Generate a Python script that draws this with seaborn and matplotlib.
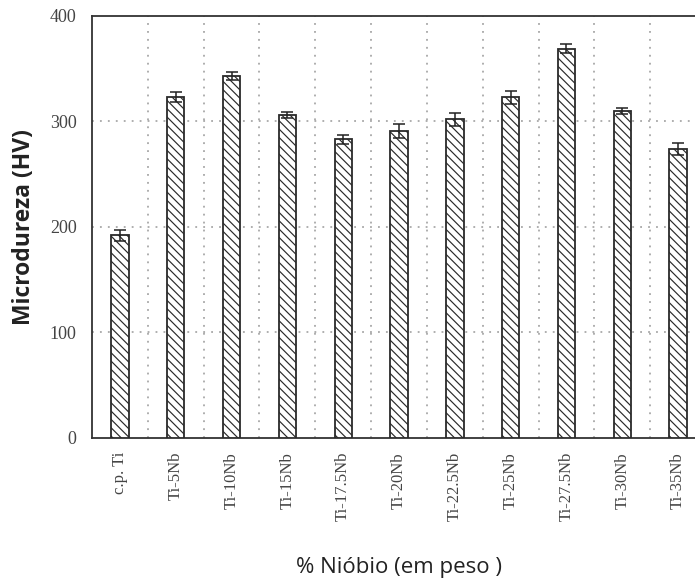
import matplotlib
matplotlib.use("Agg")
import matplotlib.pyplot as plt
import seaborn as sns
import pandas as pd
import numpy as np

# Vickers microhardness of c.p. Ti and Ti-Nb alloys
ligas = ["c.p. Ti", "Ti-5Nb", "Ti-10Nb", "Ti-15Nb", "Ti-17.5Nb", "Ti-20Nb",
         "Ti-22.5Nb", "Ti-25Nb", "Ti-27.5Nb", "Ti-30Nb", "Ti-35Nb"]
dureza = [192, 323, 343, 306, 283, 291, 302, 323, 369, 310, 274]
desvio = [5, 5, 4, 3, 4, 7, 6, 6, 4, 3, 6]
yticks = [0, 100, 200, 300, 400]

df = pd.DataFrame({"liga": ligas, "HV": dureza})

sns.set_style("white")
plt.rcParams["hatch.linewidth"] = 0.85
plt.rcParams["hatch.color"] = "#333333"

fig = plt.figure(figsize=(6.95, 5.85), dpi=100)
ax = fig.add_axes([0.1324, 0.2513, 0.8835, 0.7214])

sns.barplot(data=df, x="liga", y="HV", ax=ax, color="white", width=0.31,
            edgecolor="#2a2a2a", linewidth=1.3, errorbar=None, zorder=3)
for p in ax.patches:
    p.set_hatch("\\\\\\\\")

ax.errorbar(np.arange(len(ligas)), dureza, yerr=desvio, fmt="none",
            ecolor="#222222", elinewidth=1.1, capsize=4.5, capthick=1.1, zorder=4)

ax.set_xlim(-0.5, len(ligas) - 0.5)
ax.set_ylim(0, 400)
ax.set_yticks(yticks)
ax.set_yticklabels([str(v) for v in yticks], family="Liberation Serif",
                   fontsize=13, color="#444444")
ax.set_xticks(np.arange(len(ligas)))
ax.set_xticklabels(ligas, rotation=90, family="Liberation Serif",
                   fontsize=12, color="#444444")
ax.tick_params(axis="y", length=0, pad=11)
ax.tick_params(axis="x", length=0, pad=10)
for lbl in ax.get_yticklabels():
    lbl.set_verticalalignment("center_baseline")

# dotted grid: horizontal at tick values, vertical between bars
for v in yticks[1:-1]:
    ax.axhline(v, color="#999999", lw=1.1, ls=(0, (1.2, 4)), zorder=1)
for xv in np.arange(0.5, len(ligas) - 0.5, 1.0):
    ax.axvline(xv, color="#999999", lw=1.1, ls=(0, (1.2, 4)), zorder=1)

for side in ["left", "top", "bottom", "right"]:
    ax.spines[side].set_color("#333333")
    ax.spines[side].set_linewidth(1.3)

ax.set_ylabel("Microdureza (HV)", family="Open Sans", fontweight="bold",
              fontsize=16.5, color="#222222", labelpad=10)
ax.set_xlabel("% Nióbio (em peso )", family="Open Sans", fontsize=16,
              color="#222222", labelpad=26)

fig.savefig("out.png", dpi=100)
